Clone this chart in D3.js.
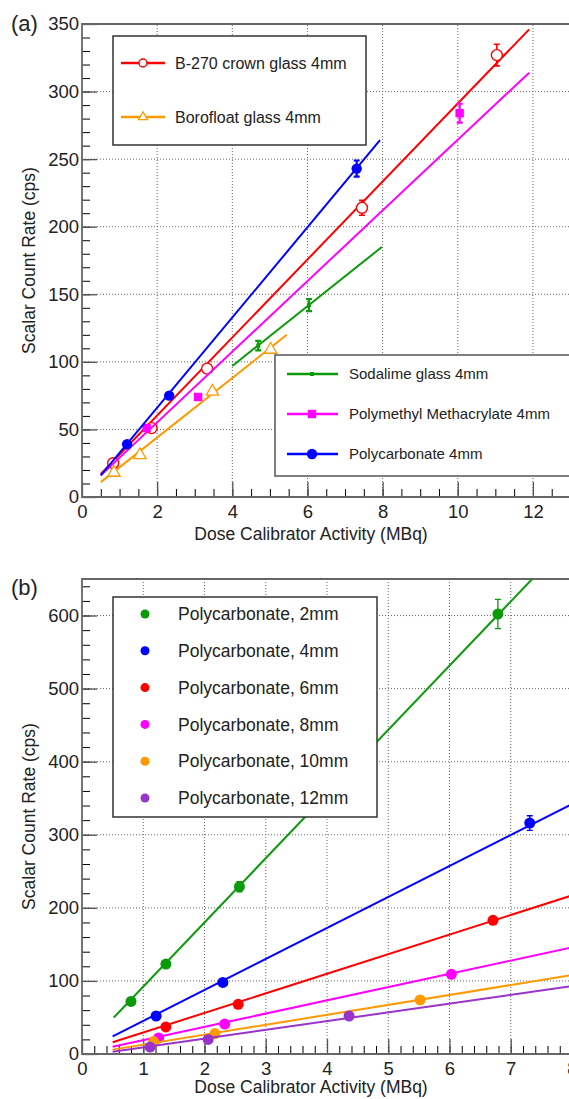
<!DOCTYPE html>
<html>
<head>
<meta charset="utf-8">
<script src="https://cdn.jsdelivr.net/npm/d3@7"></script>
<style>
  body { margin: 0; background: #fff; }
  text { font-family: "Liberation Sans", Arial, sans-serif; fill: #222; }
</style>
</head>
<body>
<svg id="chart" width="569" height="1099"></svg>
<script>
// ---- panel (a) data ----
const b270X = [0.83, 1.85, 3.33, 7.45, 11.04];
const b270Y = [25, 51, 95, 214, 327];
const b270Err = [1, 1.5, 2, 5.5, 8];
const b270Fit = [[0.5, 17], [11.9, 346]];

const boroX = [0.85, 1.54, 3.47, 5.02];
const boroY = [18, 31, 78, 109];
const boroErr = [1, 1, 2, 2];
const boroFit = [[0.5, 11], [5.45, 120]];

const sodaX = [4.69, 6.04];
const sodaY = [112, 142];
const sodaErr = [3.5, 4.5];
const sodaFit = [[4.0, 97], [7.98, 185]];

const pmmaX = [1.72, 3.09, 10.05];
const pmmaY = [51, 74, 284];
const pmmaErr = [1.5, 2, 7];
const pmmaFit = [[0.5, 16], [11.9, 314]];

const pcX = [1.2, 2.32, 7.31];
const pcY = [39, 75, 243];
const pcErr = [1.5, 2, 6];
const pcFit = [[0.5, 16], [7.93, 264]];

const legendA1 = ["B-270 crown glass 4mm", "Borofloat glass 4mm"];
const legendA2 = ["Sodalime glass 4mm", "Polymethyl Methacrylate 4mm", "Polycarbonate 4mm"];

// ---- panel (b) data ----
const pc2X = [0.8, 1.37, 2.57, 6.79];
const pc2Y = [72, 123, 229, 602];
const pc2Err = [3, 4, 7, 20];
const pc2Fit = [[0.52, 50], [7.35, 650]];

const pc4X = [1.21, 2.3, 7.31];
const pc4Y = [52, 98, 316];
const pc4Err = [2, 3, 10];
const pc4Fit = [[0.5, 24], [8, 342]];

const pc6X = [1.37, 2.55, 6.71];
const pc6Y = [37, 68, 183];
const pc6Err = [2, 2, 4];
const pc6Fit = [[0.5, 16], [8, 217]];

const pc8X = [1.25, 2.33, 6.03];
const pc8Y = [22, 41, 109];
const pc8Err = [1, 2, 3];
const pc8Fit = [[0.5, 10], [8, 146]];

const pc10X = [1.17, 2.17, 5.52];
const pc10Y = [17, 28, 74];
const pc10Err = [1, 1, 2];
const pc10Fit = [[0.5, 6], [8, 108]];

const pc12X = [1.11, 2.06, 4.36];
const pc12Y = [9.5, 20, 52];
const pc12Err = [1, 1, 2];
const pc12Fit = [[0.5, 3], [8, 93]];

const legendB = ["Polycarbonate, 2mm", "Polycarbonate, 4mm", "Polycarbonate, 6mm",
  "Polycarbonate, 8mm", "Polycarbonate, 10mm", "Polycarbonate, 12mm"];

const svg = d3.select("#chart");

// draw frame, ticks, grid and labels of one panel
function drawFrame(g, x, y, o) {
  const [x0, x1] = x.range();
  const [yb, yt] = y.range();

  // grid
  g.append("g").selectAll("line").data(o.xGrid).join("line")
    .attr("x1", d => x(d)).attr("x2", d => x(d)).attr("y1", yb).attr("y2", yt)
    .attr("stroke", "#666").attr("stroke-dasharray", "1,2");
  g.append("g").selectAll("line").data(o.yGrid).join("line")
    .attr("x1", x0).attr("x2", x1).attr("y1", d => y(d)).attr("y2", d => y(d))
    .attr("stroke", "#666").attr("stroke-dasharray", "1,2");

  // minor ticks
  g.append("g").attr("transform", `translate(0,${yb})`)
    .call(d3.axisBottom(x).tickValues(o.xMinor).tickSize(-8).tickFormat(""))
    .call(a => a.select(".domain").remove());
  g.append("g").attr("transform", `translate(${x0},0)`)
    .call(d3.axisLeft(y).tickValues(o.yMinor).tickSize(-8).tickFormat(""))
    .call(a => a.select(".domain").remove());

  // major ticks + labels
  const ax = g.append("g").attr("transform", `translate(0,${yb})`)
    .call(d3.axisBottom(x).tickValues(o.xMajor).tickSize(-15).tickPadding(21).tickFormat(d3.format("d")));
  const ay = g.append("g").attr("transform", `translate(${x0},0)`)
    .call(d3.axisLeft(y).tickValues(o.yMajor).tickSize(-15).tickPadding(3).tickFormat(d3.format("d")));
  [ax, ay].forEach(a => {
    a.selectAll("line").attr("stroke", "#555").attr("stroke-width", 1.3);
    a.select(".domain").remove();
    a.selectAll("text").attr("font-size", 18.5).attr("fill", "#222");
  });
  ax.selectAll("text").attr("dy", "0");
  ay.selectAll("text").attr("x", -3);

  // axis lines
  g.append("path")
    .attr("d", `M${x1 + 5},${yt}H${x0}V${yb}H${x1 + 5}`)
    .attr("fill", "none").attr("stroke", "#666").attr("stroke-width", 1.8);

  // titles
  g.append("text").attr("x", 311).attr("y", o.titleY)
    .attr("text-anchor", "middle").attr("font-size", 17.5)
    .text("Dose Calibrator Activity (MBq)");
  g.append("text")
    .attr("transform", `translate(35,${(yb + yt) / 2}) rotate(-90)`)
    .attr("text-anchor", "middle").attr("font-size", 17.5)
    .text("Scalar Count Rate (cps)");
  g.append("text").attr("x", 11).attr("y", o.labelY)
    .attr("font-size", 22).text(o.label);
}

function marker(sel, shape, color, size) {
  if (shape === "circleOpen") {
    sel.append("circle").attr("r", size).attr("fill", "#fff").attr("stroke", color).attr("stroke-width", 1.4);
  } else if (shape === "circle") {
    sel.append("circle").attr("r", size).attr("fill", color);
  } else if (shape === "square") {
    sel.append("rect").attr("x", -size).attr("y", -size).attr("width", 2 * size).attr("height", 2 * size).attr("fill", color);
  } else if (shape === "triangleOpen") {
    sel.append("path").attr("d", d3.symbol(d3.symbolTriangle, size * size * 2.2)())
      .attr("fill", "#fff").attr("stroke", color).attr("stroke-width", 1.3);
  } else if (shape === "tiny") {
    sel.append("rect").attr("x", -2).attr("y", -2).attr("width", 4).attr("height", 4).attr("fill", color);
  }
}

function drawSeries(g, x, y, s) {
  const line = d3.line().x(d => x(d[0])).y(d => y(d[1]));
  g.append("path").datum(s.fit).attr("d", line)
    .attr("fill", "none").attr("stroke", s.color).attr("stroke-width", 2);
  const pts = s.xs.map((v, i) => ({ x: v, y: s.ys[i], e: s.err[i] }));
  g.append("g").selectAll("path").data(pts.filter(d => d.e >= 3)).join("path")
    .attr("d", d => {
      const px = x(d.x), t = y(d.y + d.e), b = y(d.y - d.e);
      return `M${px - 3},${t}H${px + 3}M${px},${t}V${b}M${px - 3},${b}H${px + 3}`;
    })
    .attr("stroke", s.color).attr("stroke-width", s.errW || 1.6).attr("fill", "none");
  g.append("g").selectAll("g").data(pts).join("g")
    .attr("transform", d => `translate(${x(d.x)},${y(d.y)})`)
    .each(function () { marker(d3.select(this), s.shape, s.color, s.size); });
}

// ---------- panel (a) ----------
const xa = d3.scaleLinear().domain([0, 13]).range([82, 570.5]);
const ya = d3.scaleLinear().domain([0, 350]).range([497, 24]);
const ga = svg.append("g");
drawFrame(ga, xa, ya, {
  xGrid: [2, 4, 6, 8, 10, 12], yGrid: [50, 100, 150, 200, 250, 300],
  xMajor: [0, 2, 4, 6, 8, 10, 12], yMajor: d3.range(0, 351, 50),
  xMinor: d3.range(0, 13.01, 0.5), yMinor: d3.range(0, 351, 10),
  label: "(a)", labelY: 31, titleY: 540
});

const seriesA = [
  { xs: b270X, ys: b270Y, err: b270Err, fit: b270Fit, color: "#ff0000", shape: "circleOpen", size: 5.5 },
  { xs: boroX, ys: boroY, err: boroErr, fit: boroFit, color: "#ff9900", shape: "triangleOpen", size: 5.5 },
  { xs: sodaX, ys: sodaY, err: sodaErr, fit: sodaFit, color: "#0a9a0a", shape: "tiny", size: 2, errW: 2.2 },
  { xs: pmmaX, ys: pmmaY, err: pmmaErr, fit: pmmaFit, color: "#ff00ff", shape: "square", size: 4.2, errW: 2.2 },
  { xs: pcX, ys: pcY, err: pcErr, fit: pcFit, color: "#0000ff", shape: "circle", size: 5.2, errW: 2.2 }
];
ga.append("clipPath").attr("id", "clipA").append("rect")
  .attr("x", 82).attr("y", 24).attr("width", 490).attr("height", 473);
const pa = ga.append("g").attr("clip-path", "url(#clipA)");
seriesA.forEach(s => drawSeries(pa, xa, ya, s));

// legends (a)
const la1 = ga.append("g");
la1.append("rect").attr("x", 113).attr("y", 36).attr("width", 253).attr("height", 109)
  .attr("fill", "#fff").attr("stroke", "#333").attr("stroke-width", 1.5);
legendA1.forEach((name, i) => {
  const s = seriesA[i], ly = 63 + i * 54;
  la1.append("line").attr("x1", 121).attr("x2", 165).attr("y1", ly).attr("y2", ly)
    .attr("stroke", s.color).attr("stroke-width", 2.5);
  marker(la1.append("g").attr("transform", `translate(143,${ly})`), s.shape, s.color, s.size - 1.5);
  la1.append("text").attr("x", 175).attr("y", ly).attr("dy", "0.35em").attr("font-size", 16).text(name);
});
const la2 = ga.append("g");
la2.append("rect").attr("x", 275).attr("y", 355).attr("width", 310).attr("height", 121)
  .attr("fill", "#fff").attr("stroke", "#555").attr("stroke-width", 1.5);
legendA2.forEach((name, i) => {
  const s = seriesA[i + 2], ly = 374 + i * 40;
  la2.append("line").attr("x1", 287).attr("x2", 338).attr("y1", ly).attr("y2", ly)
    .attr("stroke", s.color).attr("stroke-width", 2.5);
  marker(la2.append("g").attr("transform", `translate(312,${ly})`), s.shape, s.color, s.size);
  la2.append("text").attr("x", 349).attr("y", ly).attr("dy", "0.35em").attr("font-size", 15).text(name);
});

// ---------- panel (b) ----------
const xb = d3.scaleLinear().domain([0, 8]).range([82, 572]);
const yb = d3.scaleLinear().domain([0, 650]).range([1054, 579]);
const gb = svg.append("g");
drawFrame(gb, xb, yb, {
  xGrid: [1, 2, 3, 4, 5, 6, 7], yGrid: [100, 200, 300, 400, 500, 600],
  xMajor: d3.range(0, 9), yMajor: d3.range(0, 601, 100),
  xMinor: d3.range(0, 8.01, 0.2), yMinor: d3.range(0, 641, 20),
  label: "(b)", labelY: 595, titleY: 1093
});

const seriesB = [
  { xs: pc2X, ys: pc2Y, err: pc2Err, fit: pc2Fit, color: "#0a9a0a" },
  { xs: pc4X, ys: pc4Y, err: pc4Err, fit: pc4Fit, color: "#0000ff" },
  { xs: pc6X, ys: pc6Y, err: pc6Err, fit: pc6Fit, color: "#ff0000" },
  { xs: pc8X, ys: pc8Y, err: pc8Err, fit: pc8Fit, color: "#ff00ff" },
  { xs: pc10X, ys: pc10Y, err: pc10Err, fit: pc10Fit, color: "#ff9900" },
  { xs: pc12X, ys: pc12Y, err: pc12Err, fit: pc12Fit, color: "#9933cc" }
];
gb.append("clipPath").attr("id", "clipB").append("rect")
  .attr("x", 82).attr("y", 579).attr("width", 490).attr("height", 475);
const pb = gb.append("g").attr("clip-path", "url(#clipB)");
seriesB.forEach(s => drawSeries(pb, xb, yb, Object.assign({ shape: "circle", size: 5.5, errW: 1.3 }, s)));

const lb = gb.append("g");
lb.append("rect").attr("x", 113).attr("y", 597).attr("width", 264).attr("height", 220)
  .attr("fill", "#fff").attr("stroke", "#333").attr("stroke-width", 1.5);
legendB.forEach((name, i) => {
  const ly = 614 + i * 36.8;
  lb.append("circle").attr("cx", 145).attr("cy", ly).attr("r", 4.5).attr("fill", seriesB[i].color);
  lb.append("text").attr("x", 178).attr("y", ly).attr("dy", "0.35em").attr("font-size", 17.5).text(name);
});
</script>
</body>
</html>
